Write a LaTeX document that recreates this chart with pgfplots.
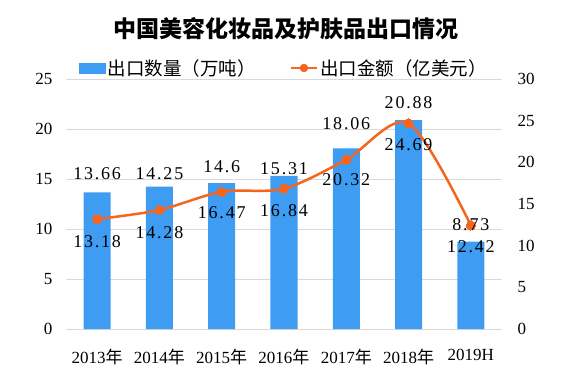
\documentclass[border=0pt]{standalone}
\usepackage{fontspec}
\setmainfont{Liberation Serif}
\newfontfamily\cjk{Noto Sans CJK SC}
\newfontfamily\lblfont[LetterSpace=10]{Liberation Serif}
\usepackage{pgfplots}
\usepackage{pgfplotstable}
\pgfplotsset{compat=1.18}
\definecolor{barblue}{RGB}{62,156,242}
\definecolor{lineorange}{RGB}{245,101,30}
\definecolor{gridgray}{RGB}{217,217,217}

\pgfplotstableread{
x qty
0 13.66
1 14.25
2 14.6
3 15.31
4 18.06
5 20.88
6 8.73
}\qtytable
\pgfplotstableread{
x amt
0 13.18
1 14.28
2 16.47
3 16.84
4 20.32
5 24.69
6 12.42
}\amttable
% label positions (left-axis units)
\pgfplotstableread{
x ly label
0 15.5 13.66
1 15.5 14.25
2 16.2 14.6
3 16.0 15.31
4 20.5 18.06
5 22.6 20.88
6 10.4 8.73
0 8.7 13.18
1 9.6 14.28
2 11.6 16.47
3 11.8 16.84
4 14.9 20.32
5 18.4 24.69
6 8.2 12.42
}\labeltable

\begin{document}
\begin{tikzpicture}[x=1pt,y=1pt]
\useasboundingbox (0,0) rectangle (567,378);
\node[font=\cjk\bfseries\fontsize{23}{25}\selectfont] at (286,349) {中国美容化妆品及护肤品出口情况};
\begin{axis}[
  at={(66pt,49pt)}, anchor=south west,
  scale only axis, width=436pt, height=250pt,
  xmin=-0.5, xmax=6.5, ymin=0, ymax=25,
  ytick={0,5,...,25},
  xtick={0,...,6},
  xticklabels={{2013{\cjk 年}},{2014{\cjk 年}},{2015{\cjk 年}},{2016{\cjk 年}},{2017{\cjk 年}},{2018{\cjk 年}},{2019H}},
  axis line style={draw=none},
  major tick length=0pt,
  ymajorgrids, grid style={gridgray, line width=0.8pt},
  tick label style={font=\fontsize{17}{19}\selectfont},
  /pgf/number format/assume math mode=true,
  yticklabel style={xshift=-10pt},
  xticklabel style={yshift=-17pt},
  legend style={at={(0.5,1.044)}, anchor=center, draw=none, fill=none,
    font=\cjk\fontsize{18.5}{20}\selectfont, legend columns=2,
    /tikz/every even column/.append style={column sep=32pt}},
]
\addlegendimage{legend image code/.code={\fill[barblue] (0pt,-5pt) rectangle (26pt,5pt);}}
\addlegendentry{出口数量（万吨）}
\addlegendimage{legend image code/.code={\draw[lineorange, line width=2.5pt] (0pt,0pt) -- (26pt,0pt); \fill[lineorange] (13pt,0pt) circle (4pt);}}
\addlegendentry{出口金额（亿美元）}
\addplot[ybar, bar width=27pt, fill=barblue, draw=none, forget plot] table[x=x, y=qty] {\qtytable};
\end{axis}
\begin{axis}[
  at={(66pt,49pt)}, anchor=south west,
  scale only axis, width=436pt, height=250pt,
  xmin=-0.5, xmax=6.5, ymin=0, ymax=30,
  ytick={0,5,...,30},
  axis x line=none, axis y line*=right,
  axis line style={draw=none},
  major tick length=0pt,
  tick label style={font=\fontsize{17}{19}\selectfont},
  /pgf/number format/assume math mode=true,
  yticklabel style={xshift=12pt},
]
\addplot[lineorange, line width=2.5pt, smooth, mark=*, mark size=4.5pt, mark options={fill=lineorange, draw=lineorange, line width=0pt}] table[x=x, y=amt] {\amttable};
\addplot[only marks, mark=none, nodes near coords, point meta=explicit symbolic,
  nodes near coords align={center}, every node near coord/.append style={font=\lblfont\fontsize{18}{20}\selectfont, anchor=center}]
  table[x=x, y expr=\thisrow{ly}*1.2, meta=label] {\labeltable};
\end{axis}
\end{tikzpicture}
\end{document}
